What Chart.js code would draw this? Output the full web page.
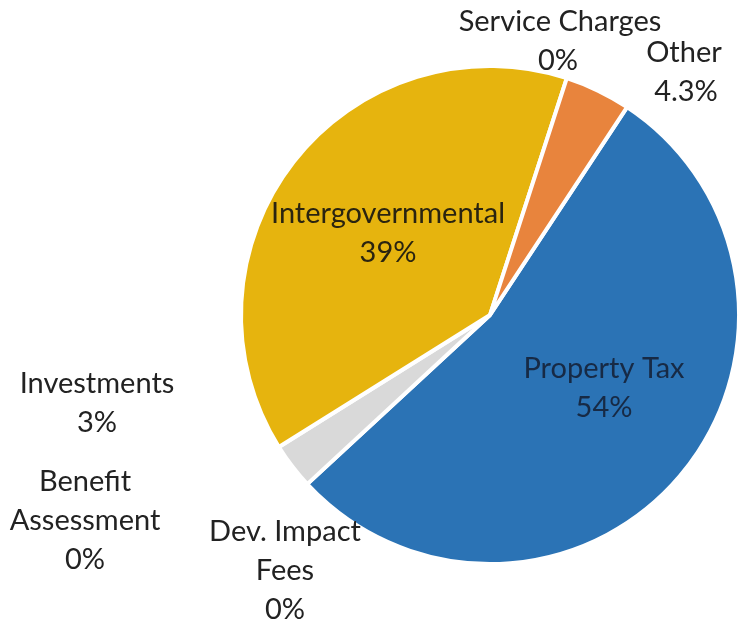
<!DOCTYPE html>
<html>
<head>
<meta charset="utf-8">
<script src="https://cdn.jsdelivr.net/npm/chart.js@4"></script>
<style>
  html, body { margin: 0; padding: 0; background: #ffffff; }
  canvas { display: block; }
</style>
</head>
<body>
<canvas id="c" width="739" height="625"></canvas>
<script>
// ---- data ----
const categories = ['Property Tax', 'Dev. Impact Fees', 'Benefit Assessment', 'Investments', 'Intergovernmental', 'Service Charges', 'Other'];
const values = [54, 0, 0, 3, 39, 0, 4.3];
const labelLines = [['Property Tax'], ['Dev. Impact', 'Fees'], ['Benefit', 'Assessment'], ['Investments'], ['Intergovernmental'], ['Service Charges'], ['Other']];
const colors = ['#2b73b5', '#a5a5a5', '#5b9bd5', '#d9d9d9', '#e6b40e', '#8a8a8a', '#e8843d'];

// ---- label layout (pixel anchors: first line cap-centre) ----
const labelAnchors = [
  { x: 604, y: 368, color: '#172a45' },
  { x: 285, y: 531, color: '#222222' },
  { x: 85,  y: 481, color: '#222222' },
  { x: 97,  y: 383, color: '#222222' },
  { x: 388, y: 213, color: '#2a2410' },
  { x: 560, y: 21,  color: '#222222', pctDx: -2 },
  { x: 684, y: 52,  color: '#222222', pctDx: 2 }
];
const FONT_SIZE = 29;
const LINE_GAP = 39;

const labelPlugin = {
  id: 'sliceLabels',
  afterDatasetsDraw(chart) {
    const ctx = chart.ctx;
    ctx.save();
    ctx.font = FONT_SIZE + 'px Lato, "Open Sans", sans-serif';
    ctx.textAlign = 'center';
    ctx.textBaseline = 'alphabetic';
    const capHalf = FONT_SIZE * 0.70 / 2;
    categories.forEach((cat, i) => {
      const a = labelAnchors[i];
      const lines = labelLines[i].slice();
      ctx.fillStyle = a.color;
      lines.forEach((ln, k) => {
        ctx.fillText(ln, a.x, a.y + k * LINE_GAP + capHalf);
      });
      const pct = values[i] + '%';
      ctx.fillText(pct, a.x + (a.pctDx || 0), a.y + lines.length * LINE_GAP + capHalf);
    });
    ctx.restore();
  }
};

new Chart(document.getElementById('c'), {
  type: 'pie',
  data: {
    labels: categories,
    datasets: [{
      data: values,
      backgroundColor: colors,
      borderColor: '#ffffff',
      borderWidth: (c) => (values[c.dataIndex] === 0 ? 0 : 4),
      radius: 249
    }]
  },
  options: {
    responsive: false,
    animation: false,
    rotation: 33.4,
    layout: { padding: { left: 243, right: 2, top: 68, bottom: 63 } },
    plugins: {
      legend: { display: false },
      tooltip: { enabled: false }
    }
  },
  plugins: [labelPlugin]
});
</script>
</body>
</html>
